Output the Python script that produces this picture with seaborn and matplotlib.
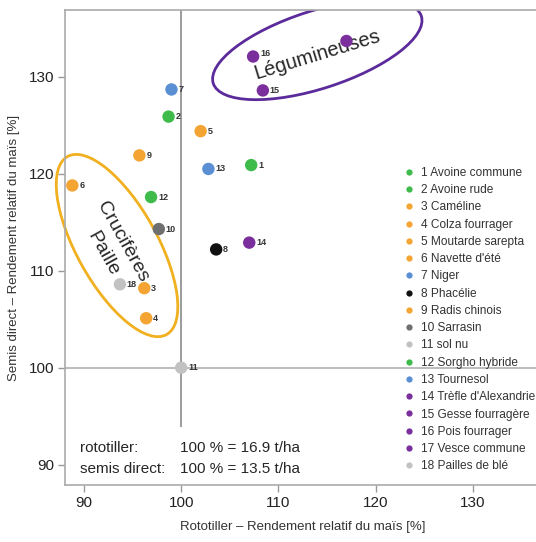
import pandas as pd
import seaborn as sns
import matplotlib.pyplot as plt
from matplotlib.patches import Ellipse, Rectangle
from matplotlib.lines import Line2D

# data
num = list(range(1, 19))
names = ['Avoine commune', 'Avoine rude', 'Caméline', 'Colza fourrager',
         'Moutarde sarepta', "Navette d'été", 'Niger', 'Phacélie',
         'Radis chinois', 'Sarrasin', 'sol nu', 'Sorgho hybride',
         'Tournesol', "Trèfle d'Alexandrie", 'Gesse fourragère',
         'Pois fourrager', 'Vesce commune', 'Pailles de blé']
groups = ['green', 'green', 'orange', 'orange', 'orange', 'orange', 'blue',
          'black', 'orange', 'dgray', 'lgray', 'green', 'blue', 'purple',
          'purple', 'purple', 'purple', 'lgray']
rototiller = [107.2, 98.7, 96.2, 96.4, 102.0, 88.8, 99.0, 103.6, 95.7,
              97.7, 100.0, 96.9, 102.8, 107.0, 108.4, 107.4, 117.0, 93.7]
semis = [120.9, 125.9, 108.2, 105.1, 124.4, 118.8, 128.7, 112.2, 121.9,
         114.3, 100.0, 117.6, 120.5, 112.9, 128.6, 132.1, 133.7, 108.6]

colors = {'green': '#3fbb4c', 'orange': '#f4a433', 'blue': '#5b8fd4',
          'black': '#111111', 'dgray': '#6f6f6f', 'lgray': '#c2c2c2',
          'purple': '#7a2f9c'}

df = pd.DataFrame({'num': num, 'name': names, 'grp': groups,
                   'x': rototiller, 'y': semis})
df['label'] = df['num'].astype(str) + ' ' + df['name']
pal = {l: colors[g] for l, g in zip(df['label'], df['grp'])}

sns.set_style('white')
plt.rcParams['font.family'] = ['Liberation Sans', 'DejaVu Sans']

fig = plt.figure(figsize=(5.36, 5.42), dpi=100)
ax = fig.add_axes([0.1213, 0.1052, 0.886, 0.8764])

ax.axvline(100, color='#8a8a8a', lw=1.2, zorder=1)
ax.axhline(100, color='#b0b0b0', lw=1.2, zorder=1)

sns.scatterplot(data=df, x='x', y='y', hue='label', palette=pal, s=80,
                edgecolor='none', legend=False, ax=ax, zorder=3)

for n, x, y in zip(num, rototiller, semis):
    if n == 17:
        continue
    dy = 2 if n == 16 else 0
    ax.annotate(str(n), (x, y), xytext=(5, dy), textcoords='offset points',
                fontsize=6.5, fontweight='bold', color='#333333',
                va='center', ha='left', zorder=4)

# group ellipses
ax.add_patch(Ellipse((114.0, 132.8), 22.5, 8.0, angle=18, fill=False,
                     ec='#5b2a9b', lw=2, zorder=2))
ax.add_patch(Ellipse((93.4, 112.6), 21.0, 8.3, angle=-61, fill=False,
                     ec='#f0b020', lw=2, zorder=2, clip_on=False))
ax.text(114.0, 132.3, 'Légumineuses', rotation=17, fontsize=14.5,
        ha='center', va='center', zorder=2.5)
ax.text(94.0, 113.0, 'Crucifères', rotation=-61, fontsize=14,
        ha='center', va='center', zorder=5)
ax.text(92.0, 111.7, 'Paille', rotation=-61, fontsize=14,
        ha='center', va='center', zorder=5)

# reference box
ax.add_patch(Rectangle((88.05, 87.9), 26, 6.0, fc='white', ec='none', zorder=2))
ax.text(89.6, 91.7, 'rototiller:', fontsize=11, va='center', zorder=5)
ax.text(89.6, 89.6, 'semis direct:', fontsize=11, va='center', zorder=5)
ax.text(99.9, 91.7, '100 % = 16.9 t/ha', fontsize=11, va='center', zorder=5)
ax.text(99.9, 89.6, '100 % = 13.5 t/ha', fontsize=11, va='center', zorder=5)

handles = [Line2D([], [], ls='none', marker='o', ms=4.5, mec='none',
                  mfc=pal[l]) for l in df['label']]
leg = ax.legend(handles, list(df['label']), loc='upper left',
                bbox_to_anchor=(0.755, 0.692), bbox_transform=fig.transFigure,
                frameon=False, fontsize=8.6, handlelength=0.8,
                handletextpad=0.6, labelspacing=0.44, borderaxespad=0,
                borderpad=0)
for t in leg.get_texts():
    t.set_color('#333333')

ax.set_xlim(88.05, 136.9)
ax.set_ylim(87.9, 136.9)
ax.set_xticks([90, 100, 110, 120, 130])
ax.set_yticks([90, 100, 110, 120, 130])
ax.tick_params(axis='both', direction='out', length=5, width=1,
               color='#999999', labelsize=11, labelcolor='#222222', pad=3,
               bottom=True, left=True)
for sp in ax.spines.values():
    sp.set_color('#aaaaaa')
    sp.set_linewidth(1.2)
ax.set_xlabel('Rototiller – Rendement relatif du maïs [%]', fontsize=9.5,
              color='#333333', labelpad=8)
ax.set_ylabel('Semis direct – Rendement relatif du maïs [%]', fontsize=9.5,
              color='#333333', labelpad=6)

fig.savefig('out.png', dpi=100)
